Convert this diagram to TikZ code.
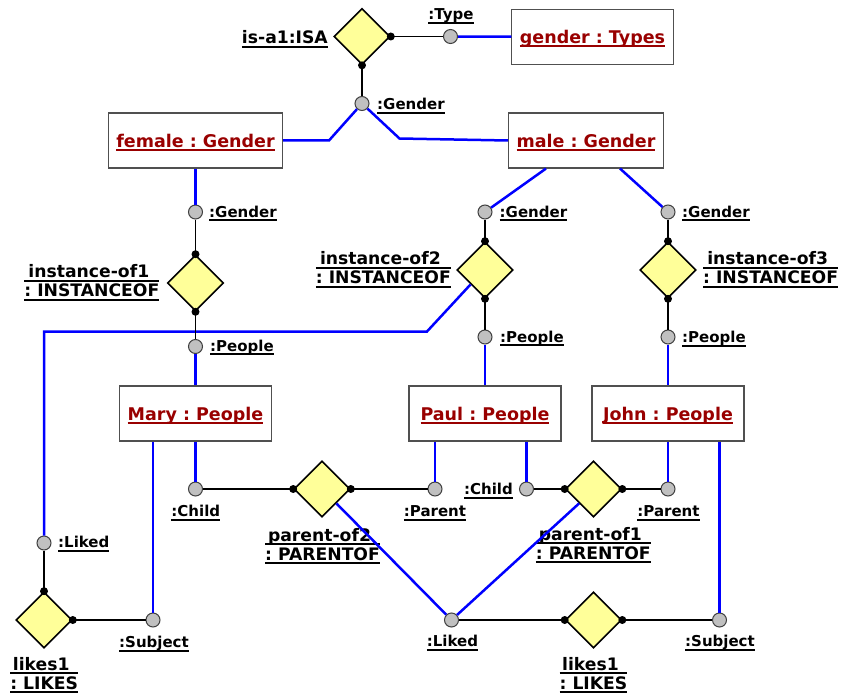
\documentclass[tikz,border=0pt]{standalone}
\usepackage{fontspec}
\setmainfont{DejaVu Sans}
\usepackage{xcolor}
\usepackage{tikz}
\usetikzlibrary{shapes.geometric}
\frenchspacing

\definecolor{relfill}{HTML}{FFFF99}
\definecolor{portfill}{HTML}{C0C0C0}
\definecolor{portline}{HTML}{404040}
\definecolor{boxline}{HTML}{505050}
\definecolor{objred}{HTML}{990000}

\newcommand{\portfont}{\fontsize{15}{17}\selectfont\bfseries}
\newcommand{\relfont}{\fontsize{17.2}{19}\selectfont\bfseries}
\newcommand{\objfont}{\fontsize{17.5}{20}\selectfont\bfseries}

\newlength\ulw
\newcommand{\ulline}[2]{\makebox[#1]{#2}\llap{\rule[-4.3pt]{#1}{2pt}}}
\newcommand{\ulone}[1]{\settowidth\ulw{#1}\ulline{\ulw}{#1}}
\newcommand{\ultwo}[2]{\settowidth\ulw{#1}\setbox0\hbox{#2}%
  \ifdim\wd0>\ulw \ulw=\wd0\fi
  \vtop{\baselineskip=19pt\hbox{\ulline{\ulw}{#1}}\hbox{\ulline{\ulw}{#2}}}}

\tikzset{
  rel/.style={shape=diamond, draw=black, line width=1.6pt, fill=relfill,
    minimum width=56pt, minimum height=56pt, inner sep=0pt},
  port/.style={circle, draw=portline, fill=portfill, line width=1pt,
    minimum size=14pt, inner sep=0pt},
  obj/.style={rectangle, draw=boxline, fill=white, line width=1.1pt,
    minimum height=55pt, minimum width=152pt, inner xsep=8pt,
    text height=14pt, text depth=1pt, font=\objfont, text=objred},
  lbl/.style={inner sep=0pt, font=\portfont},
  rlbl/.style={inner sep=0pt, font=\relfont},
  link/.style={line width=1.7pt, black},
  tie/.style={line width=2.5pt, blue},
}

\begin{document}
\begin{tikzpicture}[x=1pt, y=-1pt]
      \useasboundingbox (0,0) rectangle (851,698);

      % relations
      \node[rel] (isa) at (362,36.5) {};
      \node[rel] (inst1) at (195.5,283) {};
      \node[rel] (inst2) at (485,270) {};
      \node[rel] (inst3) at (668,270) {};
      \node[rel] (par2) at (322,489) {};
      \node[rel] (par1) at (593.5,489) {};
      \node[rel] (likesA) at (44,620) {};
      \node[rel] (likesB) at (593.5,620) {};

      \node[rlbl, anchor=base east] (isaL) at (328,43.5) {\ulone{is-a1:ISA}};
      \node[rlbl, anchor=base east] (inst1L) at (159.5,277.7) {\ultwo{instance-of1\ }{: INSTANCEOF}};
      \node[rlbl, anchor=base east] (inst2L) at (451,264.3) {\ultwo{instance-of2\ }{: INSTANCEOF}};
      \node[rlbl, anchor=base west] (inst3L) at (703,264.3) {\ultwo{instance-of3\ }{: INSTANCEOF}};
      \node[rlbl, anchor=base] (par2L) at (322.5,541) {\ultwo{parent-of2\ }{: PARENTOF}};
      \node[rlbl, anchor=base] (par1L) at (593.3,540) {\ultwo{parent-of1\ }{: PARENTOF}};
      \node[rlbl, anchor=base] (likesAL) at (44.2,670) {\ultwo{likes1\ }{: LIKES}};
      \node[rlbl, anchor=base] (likesBL) at (593.5,670) {\ultwo{likes1\ }{: LIKES}};

      % objects
      \node[obj] (types) at (592.5,36.7) {\ulone{gender : Types}};
      \node[obj] (female) at (195.5,140.5) {\ulone{female : Gender}};
      \node[obj] (male) at (586,140.5) {\ulone{male : Gender}};
      \node[obj] (mary) at (195.5,413.5) {\ulone{Mary : People}};
      \node[obj] (paul) at (485,413.5) {\ulone{Paul : People}};
      \node[obj] (john) at (668,413.5) {\ulone{John : People}};

      % ports
      \node[port] (isaType) at (450.5,36.5) {};
      \node[port] (isaGen) at (362,103.5) {};
      \node[port] (in1Gen) at (195.5,212) {};
      \node[port] (in1Ppl) at (195.5,346.5) {};
      \node[port] (in2Gen) at (485,212) {};
      \node[port] (in2Ppl) at (485,337) {};
      \node[port] (in3Gen) at (668,212) {};
      \node[port] (in3Ppl) at (668,337) {};
      \node[port] (p2Child) at (195.5,489) {};
      \node[port] (p2Par) at (435,489) {};
      \node[port] (p1Child) at (526.5,489) {};
      \node[port] (p1Par) at (668,489) {};
      \node[port] (lAliked) at (44,543) {};
      \node[port] (lAsubj) at (153,620) {};
      \node[port] (lBliked) at (451.5,620) {};
      \node[port] (lBsubj) at (719.5,620) {};

      \node[lbl, anchor=base] at (451,19.5) {\ulone{:Type}};
      \node[lbl, anchor=base west] at (377,109.5) {\ulone{:Gender}};
      \node[lbl, anchor=base west] at (209,217) {\ulone{:Gender}};
      \node[lbl, anchor=base west] at (499.5,217) {\ulone{:Gender}};
      \node[lbl, anchor=base west] at (682,217) {\ulone{:Gender}};
      \node[lbl, anchor=base west] at (210,351) {\ulone{:People}};
      \node[lbl, anchor=base west] at (500,342) {\ulone{:People}};
      \node[lbl, anchor=base west] at (682,342.5) {\ulone{:People}};
      \node[lbl, anchor=base] at (195.8,516.7) {\ulone{:Child}};
      \node[lbl, anchor=base] at (435,516.7) {\ulone{:Parent}};
      \node[lbl, anchor=base east] at (513,494.3) {\ulone{:Child}};
      \node[lbl, anchor=base] at (668.5,516.7) {\ulone{:Parent}};
      \node[lbl, anchor=base west] at (58,547.7) {\ulone{:Liked}};
      \node[lbl, anchor=base] at (154,647.5) {\ulone{:Subject}};
      \node[lbl, anchor=base] at (452.5,646.7) {\ulone{:Liked}};
      \node[lbl, anchor=base] at (720,646.7) {\ulone{:Subject}};

      \coordinate (fbend) at (329,140.5);
      \coordinate (mbend) at (399.5,138.5);
      \coordinate (ibend) at (427,331.5);

      % blue ties
      \draw[tie] (isaType) -- (types);
      \draw[tie] (female.east) -- (fbend) -- (isaGen);
      \draw[tie] (isaGen) -- (mbend) -- (male.west);
      \draw[tie] (female) -- (in1Gen);
      \draw[tie] ([xshift=-40pt]male.south) -- (in2Gen);
      \draw[tie] ([xshift=34pt]male.south) -- (in3Gen);
      \draw[tie] (in1Ppl) -- (mary);
      \draw[tie] (in2Ppl) -- (paul);
      \draw[tie] (in3Ppl) -- (john);
      \draw[tie] (p2Child) -- (p2Child |- mary.south);
      \draw[tie] (lAsubj) -- (lAsubj |- mary.south);
      \draw[tie] (p2Par) -- (p2Par |- paul.south);
      \draw[tie] (p1Child) -- (p1Child |- paul.south);
      \draw[tie] (p1Par) -- (p1Par |- john.south);
      \draw[tie] (lBsubj) -- (lBsubj |- john.south);
      \draw[tie] (inst2.south west) -- (ibend) -- (lAliked |- ibend) -- (lAliked);
      \draw[tie] (par2.south east) -- (lBliked);
      \draw[tie] (par1.south west) -- (lBliked);

      % black links
      \draw[link] (isa.east) -- (isaType);
      \draw[link] (isa.south) -- (isaGen);
      \draw[link] (in1Gen) -- (inst1.north);
      \draw[link] (inst1.south) -- (in1Ppl);
      \draw[link] (in2Gen) -- (inst2.north);
      \draw[link] (inst2.south) -- (in2Ppl);
      \draw[link] (in3Gen) -- (inst3.north);
      \draw[link] (inst3.south) -- (in3Ppl);
      \draw[link] (p2Child) -- (par2.west);
      \draw[link] (par2.east) -- (p2Par);
      \draw[link] (p1Child) -- (par1.west);
      \draw[link] (par1.east) -- (p1Par);
      \draw[link] (lAliked) -- (likesA.north);
      \draw[link] (likesA.east) -- (lAsubj);
      \draw[link] (lBliked) -- (likesB.west);
      \draw[link] (likesB.east) -- (lBsubj);

      \foreach \a in {isa.east, isa.south, inst1.north, inst1.south,
          inst2.north, inst2.south, inst3.north, inst3.south,
          par2.west, par2.east, par1.west, par1.east,
          likesA.north, likesA.east, likesB.west, likesB.east}
        \fill (\a) circle (4pt);
\end{tikzpicture}
\end{document}
